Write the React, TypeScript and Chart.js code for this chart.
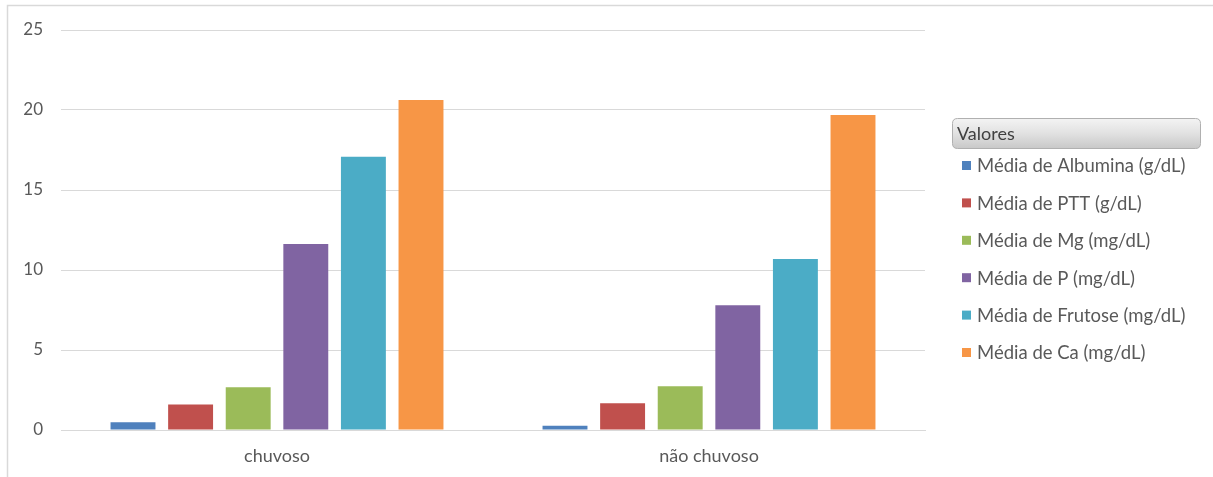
import React, { useEffect, useRef } from "react";
import { Chart, registerables } from "chart.js";

Chart.register(...registerables);

// Periods compared
const categories: string[] = ["chuvoso", "não chuvoso"];

// Series names and mean values per period
const seriesNames: string[] = [
  "Média de Albumina (g/dL)",
  "Média de PTT (g/dL)",
  "Média de Mg (mg/dL)",
  "Média de P (mg/dL)",
  "Média de Frutose (mg/dL)",
  "Média de Ca (mg/dL)",
];
const albumina: number[] = [0.48, 0.27];
const ptt: number[] = [1.6, 1.67];
const mg: number[] = [2.67, 2.73];
const fosforo: number[] = [11.62, 7.79];
const frutose: number[] = [17.08, 10.69];
const calcio: number[] = [20.62, 19.69];

const seriesColors: string[] = ["#4F81BD", "#C0504D", "#9BBB59", "#8064A2", "#4BACC6", "#F79646"];

const yTicks: number[] = [0, 5, 10, 15, 20, 25];
const legendTitle = "Valores";

const FONT = "Lato, 'Open Sans', sans-serif";
const TEXT_GREY = "#595959";
const GRID_GREY = "#d9d9d9";

// Outer frame of the chart object
const framePlugin = {
  id: "frame",
  beforeDraw(chart: Chart) {
    const { ctx, width, height } = chart;
    ctx.save();
    ctx.fillStyle = "#ffffff";
    ctx.fillRect(0, 0, width, height);
    ctx.strokeStyle = GRID_GREY;
    ctx.lineWidth = 1.5;
    ctx.beginPath();
    ctx.moveTo(7.5, height);
    ctx.lineTo(7.5, 5.5);
    ctx.lineTo(width, 5.5);
    ctx.stroke();
    ctx.restore();
  },
};

function roundRect(ctx: CanvasRenderingContext2D, x: number, y: number, w: number, h: number, r: number) {
  ctx.beginPath();
  ctx.moveTo(x + r, y);
  ctx.lineTo(x + w - r, y);
  ctx.quadraticCurveTo(x + w, y, x + w, y + r);
  ctx.lineTo(x + w, y + h - r);
  ctx.quadraticCurveTo(x + w, y + h, x + w - r, y + h);
  ctx.lineTo(x + r, y + h);
  ctx.quadraticCurveTo(x, y + h, x, y + h - r);
  ctx.lineTo(x, y + r);
  ctx.quadraticCurveTo(x, y, x + r, y);
  ctx.closePath();
}

// Legend with a shaded "Valores" header, drawn to the right of the plot
const legendPlugin = {
  id: "valoresLegend",
  afterDraw(chart: Chart) {
    const { ctx } = chart;
    const boxX = 952;
    const boxY = 118;
    const boxW = 248;
    const boxH = 30;
    ctx.save();
    const grad = ctx.createLinearGradient(0, boxY, 0, boxY + boxH);
    grad.addColorStop(0, "#f4f4f4");
    grad.addColorStop(0.5, "#e2e2e2");
    grad.addColorStop(1, "#c9c9c9");
    roundRect(ctx, boxX + 0.5, boxY + 0.5, boxW, boxH, 5);
    ctx.fillStyle = grad;
    ctx.fill();
    ctx.strokeStyle = "#b0b0b0";
    ctx.lineWidth = 1;
    ctx.stroke();

    ctx.font = `18px ${FONT}`;
    ctx.textBaseline = "middle";
    ctx.textAlign = "left";
    ctx.fillStyle = "#404040";
    ctx.fillText(legendTitle, 957, boxY + boxH / 2 + 1);

    ctx.font = `18.5px ${FONT}`;
    const startY = 165.5;
    const step = 37.4;
    chart.data.datasets.forEach((ds, i) => {
      const y = startY + i * step;
      ctx.fillStyle = ds.backgroundColor as string;
      ctx.fillRect(962, y - 4.5, 9, 9);
      ctx.fillStyle = TEXT_GREY;
      ctx.fillText(ds.label as string, 977, y + 1);
    });
    ctx.restore();
  },
};

export default function App() {
  const canvasRef = useRef<HTMLCanvasElement | null>(null);

  useEffect(() => {
    if (!canvasRef.current) return;
    const values = [albumina, ptt, mg, fosforo, frutose, calcio];
    const chart = new Chart(canvasRef.current, {
      type: "bar",
      data: {
        labels: categories,
        datasets: seriesNames.map((name, i) => ({
          label: name,
          data: values[i],
          backgroundColor: seriesColors[i],
          borderWidth: 0,
          categoryPercentage: 0.8,
          barPercentage: 0.78,
        })),
      },
      options: {
        animation: false,
        responsive: false,
        maintainAspectRatio: false,
        layout: { padding: { left: 0, right: 288, top: 30, bottom: 0 } },
        plugins: {
          legend: { display: false },
          tooltip: { enabled: false },
        },
        scales: {
          x: {
            grid: { display: false, drawTicks: false },
            border: { display: true, color: GRID_GREY, width: 1 },
            ticks: { color: TEXT_GREY, font: { family: FONT, size: 18 }, padding: 15 },
            afterFit: (axis: any) => {
              axis.height = 47;
            },
          },
          y: {
            min: 0,
            max: 25,
            afterBuildTicks: (axis: any) => {
              axis.ticks = yTicks.map((v) => ({ value: v }));
            },
            grid: { color: GRID_GREY, lineWidth: 1, drawTicks: false },
            border: { display: false },
            ticks: { color: TEXT_GREY, font: { family: FONT, size: 17 }, padding: 18 },
            afterFit: (axis: any) => {
              axis.width = 61;
            },
          },
        },
      },
      plugins: [framePlugin, legendPlugin],
    });
    return () => chart.destroy();
  }, []);

  return (
    <div style={{ position: "fixed", left: 0, top: 0, width: 1213, height: 477, background: "#fff" }}>
      <canvas ref={canvasRef} width={1213} height={477} style={{ display: "block", width: 1213, height: 477 }} />
    </div>
  );
}
